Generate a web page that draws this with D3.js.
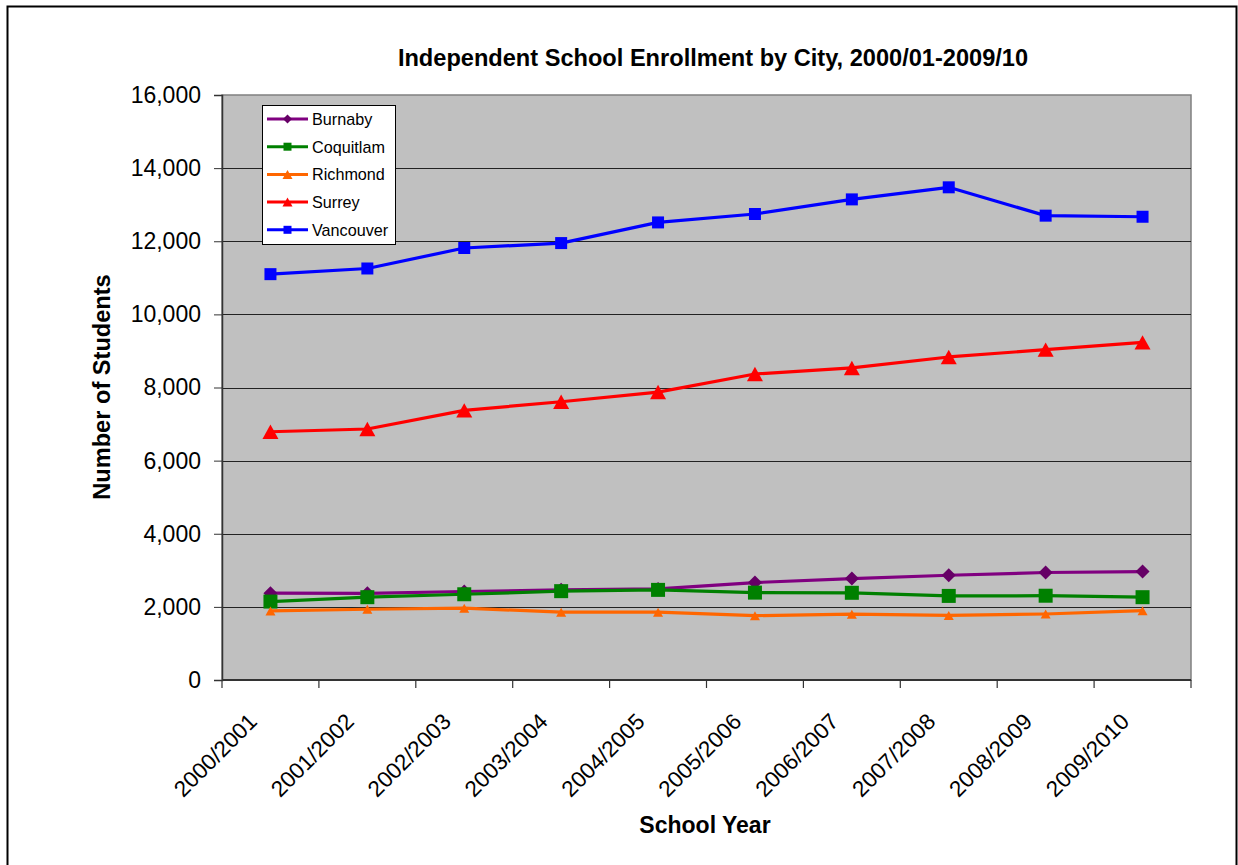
<!DOCTYPE html>
<html>
<head>
<meta charset="utf-8">
<script src="https://cdn.jsdelivr.net/npm/d3@7"></script>
<style>
  html, body { margin: 0; padding: 0; background: #fff; }
  svg { display: block; font-family: "Liberation Sans", Arial, sans-serif; }
</style>
</head>
<body>
<svg id="chart" width="1238" height="865"></svg>
<script>
const categories = ["2000/2001","2001/2002","2002/2003","2003/2004","2004/2005","2005/2006","2006/2007","2007/2008","2008/2009","2009/2010"];
const burnaby   = [2375, 2370, 2420, 2465, 2490, 2665, 2775, 2865, 2940, 2965];
const coquitlam = [2145, 2265, 2345, 2430, 2465, 2390, 2385, 2300, 2305, 2265];
const richmond  = [1890, 1935, 1965, 1855, 1855, 1760, 1800, 1765, 1805, 1895];
const surrey    = [6790, 6865, 7375, 7610, 7875, 8370, 8535, 8835, 9035, 9235];
const vancouver = [11100, 11255, 11815, 11950, 12515, 12745, 13145, 13475, 12700, 12670];
const seriesNames = ["Burnaby","Coquitlam","Richmond","Surrey","Vancouver"];
const yTicks = [0, 2000, 4000, 6000, 8000, 10000, 12000, 14000, 16000];

const series = [
  {name: seriesNames[0], values: burnaby,   color: "#800080", fill: "#660066", shape: "diamond",  s: 7,  ls: 4.5},
  {name: seriesNames[1], values: coquitlam, color: "#008000", fill: "#008000", shape: "square",   s: 7,  ls: 4},
  {name: seriesNames[2], values: richmond,  color: "#FF6600", fill: "#FF6600", shape: "triangle", s: 5,  ls: 5},
  {name: seriesNames[3], values: surrey,    color: "#FF0000", fill: "#FF0000", shape: "triangle", s: 8,  ls: 5},
  {name: seriesNames[4], values: vancouver, color: "#0000FF", fill: "#0000FF", shape: "square",   s: 6,  ls: 4}
];

const svg = d3.select("#chart");
const L = 222, R = 1191, T = 95, B = 680;

const x = d3.scaleBand().domain(categories).range([L, R]).padding(0);
const y = d3.scaleLinear().domain([0, 16000]).range([B, T]);
const cx = c => x(c) + x.bandwidth() / 2;

// outer frame
svg.append("rect").attr("x", 7.5).attr("y", 6.5).attr("width", 1229).attr("height", 870)
  .attr("fill", "none").attr("stroke", "#000").attr("stroke-width", 2);

// plot background
svg.append("rect").attr("x", L).attr("y", T).attr("width", R - L).attr("height", B - T)
  .attr("fill", "#C0C0C0").attr("stroke", "#808080").attr("stroke-width", 1.5);

// gridlines
svg.append("g").selectAll("line").data(yTicks.filter(d => d > 0 && d < 16000)).join("line")
  .attr("x1", L).attr("x2", R).attr("y1", d => Math.round(y(d)) + 0.5).attr("y2", d => Math.round(y(d)) + 0.5)
  .attr("stroke", "#222").attr("stroke-width", 1);

// y axis
const yAxis = d3.axisLeft(y).tickValues(yTicks).tickSize(8).tickPadding(13).tickFormat(d3.format(","));
const gy = svg.append("g").attr("transform", `translate(${L},0)`).call(yAxis);
gy.select(".domain").attr("stroke", "#333").attr("stroke-width", 1.5);
gy.selectAll(".tick line").attr("stroke", "#333");
gy.selectAll(".tick text").attr("font-size", 23).attr("fill", "#000")
  .attr("font-family", "'Liberation Sans', Arial, sans-serif");

// x axis line and ticks at category boundaries
svg.append("line").attr("x1", L).attr("x2", R).attr("y1", B).attr("y2", B)
  .attr("stroke", "#333").attr("stroke-width", 2);
const edges = categories.map(c => x(c)).concat([x(categories[categories.length - 1]) + x.bandwidth()]);
svg.append("g").selectAll("line").data(edges).join("line")
  .attr("x1", d => d).attr("x2", d => d).attr("y1", B).attr("y2", B + 8)
  .attr("stroke", "#333").attr("stroke-width", 1.2);

// x tick labels rotated
svg.append("g").selectAll("text").data(categories).join("text")
  .attr("transform", d => `translate(${cx(d) - 12},${B + 43}) rotate(-45)`)
  .attr("text-anchor", "end").attr("font-size", 22.5).attr("fill", "#000")
  .text(d => d);

// symbols
function symPath(shape, s) {
  if (shape === "square") return `M${-s},${-s}H${s}V${s}H${-s}Z`;
  if (shape === "diamond") return `M0,${-s}L${s},0L0,${s}L${-s},0Z`;
  if (shape === "triangle") { const h = s * 0.9; return `M0,${-h}L${s},${h}L${-s},${h}Z`; }
}

const line = d3.line().x((d, i) => cx(categories[i])).y(d => y(d));

const plot = svg.append("g");
series.forEach(s => {
  plot.append("path").datum(s.values).attr("d", line)
    .attr("fill", "none").attr("stroke", s.color).attr("stroke-width", 3.2).attr("stroke-linejoin", "round");
});
series.forEach(s => {
  plot.append("g").selectAll("path").data(s.values).join("path")
    .attr("transform", (d, i) => `translate(${cx(categories[i])},${y(d)})`)
    .attr("d", symPath(s.shape, s.s)).attr("fill", s.fill);
});

// legend
const lg = svg.append("g");
lg.append("rect").attr("x", 262.5).attr("y", 105.5).attr("width", 133).attr("height", 139)
  .attr("fill", "#fff").attr("stroke", "#000").attr("stroke-width", 1);
series.forEach((s, i) => {
  const yy = 119 + i * 27.7;
  lg.append("line").attr("x1", 267).attr("x2", 308).attr("y1", yy).attr("y2", yy)
    .attr("stroke", s.color).attr("stroke-width", 3);
  lg.append("path").attr("transform", `translate(287.5,${yy})`).attr("d", symPath(s.shape, s.ls)).attr("fill", s.fill);
  lg.append("text").attr("x", 312).attr("y", yy + 6).attr("font-size", 16.2).attr("fill", "#000").text(s.name);
});

// titles
svg.append("text").attr("x", 713).attr("y", 66).attr("text-anchor", "middle")
  .attr("font-size", 23.6).attr("font-weight", "bold").attr("fill", "#000")
  .text("Independent School Enrollment by City, 2000/01-2009/10");
svg.append("text").attr("x", 705).attr("y", 833).attr("text-anchor", "middle")
  .attr("font-size", 23).attr("font-weight", "bold").attr("fill", "#000")
  .text("School Year");
svg.append("text").attr("transform", `translate(110,387) rotate(-90)`).attr("text-anchor", "middle")
  .attr("font-size", 23.6).attr("font-weight", "bold").attr("fill", "#000")
  .text("Number of Students");
</script>
</body>
</html>
